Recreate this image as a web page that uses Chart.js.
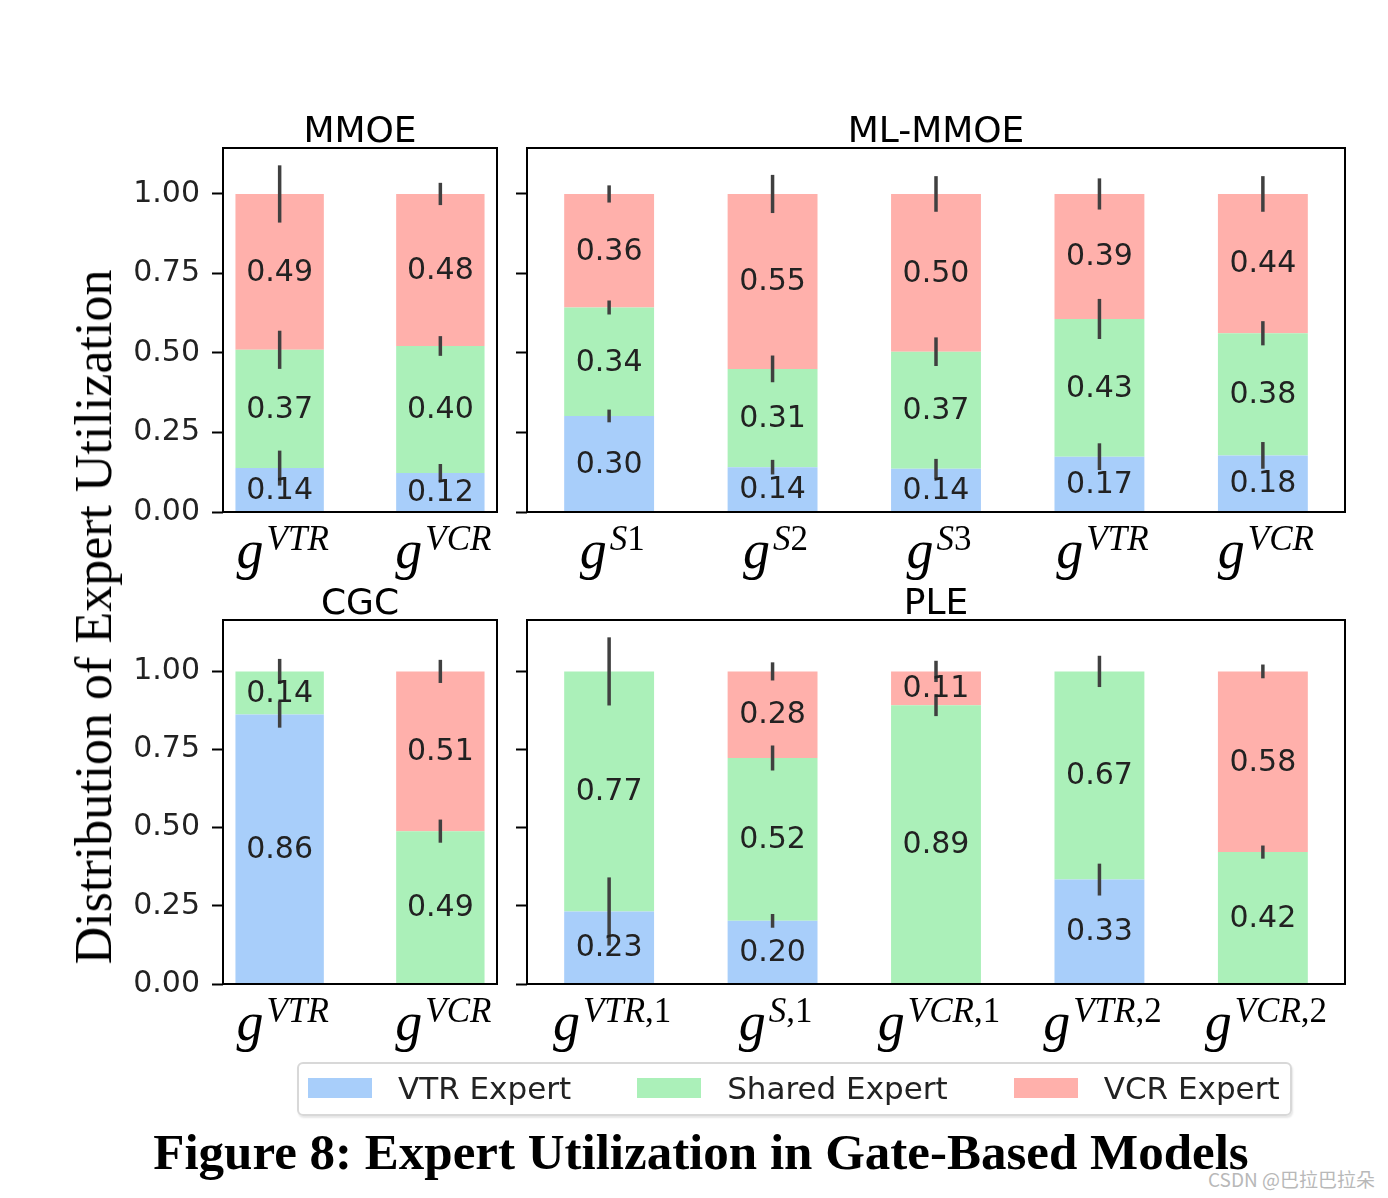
<!DOCTYPE html>
<html>
<head>
<meta charset="utf-8">
<script src="https://cdn.jsdelivr.net/npm/chart.js@4.4.0/dist/chart.umd.min.js"></script>
<style>
body{margin:0;background:#fff;width:1388px;height:1198px;position:relative;overflow:hidden;}
canvas{position:absolute;}
#ylab{position:absolute;left:94px;top:617px;transform:translate(-50%,-50%) rotate(-90deg);font-family:"Liberation Serif";font-size:52px;line-height:1;white-space:nowrap;color:#000;}
#legend{position:absolute;left:297px;top:1062px;width:982px;height:50px;border:2px solid #d8d8d8;border-radius:6px;box-shadow:1px 2px 2px rgba(0,0,0,0.10);display:flex;align-items:center;padding-left:9px;box-sizing:content-box;white-space:nowrap;}
#legend .item{display:flex;align-items:center;flex-shrink:0;margin-right:66px;font-family:"DejaVu Sans";font-size:31px;color:#222;white-space:nowrap;margin-top:-3px;}
#legend .sw{width:64px;height:20px;margin-right:26px;flex-shrink:0;}
#caption{position:absolute;left:0;width:1402px;top:1127px;text-align:center;font-family:"Liberation Serif";font-weight:bold;font-size:51px;line-height:51px;color:#000;white-space:nowrap;}
#mark{position:absolute;right:13px;top:1165px;font-family:"Noto Sans CJK SC";font-size:19px;color:#b8b8b8;white-space:nowrap;}
</style>
</head>
<body>
<canvas id="c1" width="400" height="500" style="left:100px;top:100px"></canvas>
<canvas id="c2" width="850" height="500" style="left:500px;top:100px"></canvas>
<canvas id="c3" width="400" height="500" style="left:100px;top:572px"></canvas>
<canvas id="c4" width="850" height="500" style="left:500px;top:572px"></canvas>
<div id="ylab">Distribution of Expert Utilization</div>
<div id="legend"></div>
<div id="caption">Figure 8: Expert Utilization in Gate-Based Models</div>
<div id="mark">CSDN @巴拉巴拉朵</div>
<script>
// series
var seriesNames = ['VTR Expert', 'Shared Expert', 'VCR Expert'];
var seriesColors = ['#a8cefa', '#abf0b9', '#ffb0ab'];
var yTicks = [0, 0.25, 0.5, 0.75, 1.0];

// MMOE
var mmoeGates = ['VTR', 'VCR'];
var mmoeVtr = [0.138, 0.123];
var mmoeShared = [0.372, 0.399];
var mmoeVcr = [0.490, 0.478];
var mmoeVtrErr = [0.055, 0.028];
var mmoeSharedErr = [0.060, 0.031];
var mmoeVcrErr = [0.090, 0.035];

// ML-MMOE
var mlGates = ['S1', 'S2', 'S3', 'VTR', 'VCR'];
var mlVtr = [0.302, 0.141, 0.136, 0.174, 0.178];
var mlShared = [0.341, 0.309, 0.368, 0.433, 0.384];
var mlVcr = [0.357, 0.550, 0.496, 0.393, 0.438];
var mlVtrErr = [0.020, 0.023, 0.031, 0.042, 0.042];
var mlSharedErr = [0.022, 0.042, 0.045, 0.063, 0.038];
var mlVcrErr = [0.027, 0.060, 0.056, 0.049, 0.056];

// CGC
var cgcGates = ['VTR', 'VCR'];
var cgcVtr = [0.862, 0];
var cgcShared = [0.138, 0.489];
var cgcVcr = [0, 0.511];
var cgcVtrErr = [0.042, 0];
var cgcSharedErr = [0.040, 0.037];
var cgcVcrErr = [0, 0.037];

// PLE
var pleGates = ['VTR,1', 'S,1', 'VCR,1', 'VTR,2', 'VCR,2'];
var pleVtr = [0.232, 0.202, 0, 0.334, 0];
var pleShared = [0.768, 0.521, 0.892, 0.666, 0.422];
var pleVcr = [0, 0.277, 0.108, 0, 0.578];
var pleVtrErr = [0.109, 0.022, 0, 0.051, 0];
var pleSharedErr = [0.109, 0.040, 0.035, 0.050, 0.021];
var pleVcrErr = [0, 0.029, 0.034, 0, 0.022];

var barW = 0.55;

var panels = {
  mmoe: {id: 'c1', title: 'MMOE', gates: mmoeGates, series: [mmoeVtr, mmoeShared, mmoeVcr], errors: [mmoeVtrErr, mmoeSharedErr, mmoeVcrErr], axisW: 123, labels: true, padR: 3},
  ml:   {id: 'c2', title: 'ML-MMOE', gates: mlGates, series: [mlVtr, mlShared, mlVcr], errors: [mlVtrErr, mlSharedErr, mlVcrErr], axisW: 27, labels: false, padR: 5},
  cgc:  {id: 'c3', title: 'CGC', gates: cgcGates, series: [cgcVtr, cgcShared, cgcVcr], errors: [cgcVtrErr, cgcSharedErr, cgcVcrErr], axisW: 123, labels: true, padR: 3},
  ple:  {id: 'c4', title: 'PLE', gates: pleGates, series: [pleVtr, pleShared, pleVcr], errors: [pleVtrErr, pleSharedErr, pleVcrErr], axisW: 27, labels: false, padR: 5}
};

function rowMax(list) {
  var m = 0;
  list.forEach(function(p){
    p.series.forEach(function(s, d){
      s.forEach(function(v, i){
        var cum = 0;
        for (var k = 0; k <= d; k++) cum += p.series[k][i];
        m = Math.max(m, cum + p.errors[d][i]);
      });
    });
  });
  return m * 1.05;
}
var topMax = rowMax([panels.mmoe, panels.ml]);
var botMax = rowMax([panels.cgc, panels.ple]);

function supFont(ch, size) {
  return (/[0-9,]/.test(ch) ? '' : 'italic ') + size + 'px "Liberation Serif"';
}
function drawSup(ctx, x, y, txt, size) {
  for (var k = 0; k < txt.length; k++) {
    ctx.font = supFont(txt[k], size);
    ctx.fillText(txt[k], x, y);
    x += ctx.measureText(txt[k]).width;
  }
}
function supWidth(ctx, txt, size) {
  var w = 0;
  for (var k = 0; k < txt.length; k++) {
    ctx.font = supFont(txt[k], size);
    w += ctx.measureText(txt[k]).width;
  }
  return w;
}

function makePanel(p, yMax) {
  var n = p.gates.length;
  var pad = 0.05 * (n - 1 + barW);
  var datasets = p.series.map(function(s, d){
    return {
      label: seriesNames[d],
      data: s.map(function(v, i){ return {x: i, y: v}; }),
      backgroundColor: seriesColors[d],
      borderWidth: 0,
      barPercentage: barW,
      categoryPercentage: 1
    };
  });
  var decor = {
    id: 'decor',
    afterDatasetsDraw: function(chart) {
      var ctx = chart.ctx, a = chart.chartArea, ys = chart.scales.y;
      ctx.save();
      // error bars
      ctx.strokeStyle = '#404040';
      ctx.lineWidth = 3.5;
      var cum = p.gates.map(function(){ return 0; });
      chart.data.datasets.forEach(function(ds, d){
        var meta = chart.getDatasetMeta(d);
        meta.data.forEach(function(bar, i){
          cum[i] += ds.data[i].y;
          var e = p.errors[d][i];
          if (!e) return;
          ctx.beginPath();
          ctx.moveTo(bar.x, ys.getPixelForValue(cum[i] - e));
          ctx.lineTo(bar.x, ys.getPixelForValue(cum[i] + e));
          ctx.stroke();
        });
      });
      // value labels
      ctx.fillStyle = '#222';
      ctx.font = '30px "DejaVu Sans"';
      ctx.textAlign = 'center';
      ctx.textBaseline = 'middle';
      chart.data.datasets.forEach(function(ds, d){
        var meta = chart.getDatasetMeta(d);
        meta.data.forEach(function(bar, i){
          var v = ds.data[i].y;
          if (v < 0.005) return;
          ctx.fillText(v.toFixed(2), bar.x, (bar.y + bar.base) / 2 + 1);
        });
      });
      // frame
      ctx.strokeStyle = '#000';
      ctx.lineWidth = 2;
      ctx.strokeRect(a.left, a.top, a.right - a.left, a.bottom - a.top);
      // title
      ctx.fillStyle = '#000';
      ctx.font = '36px "DejaVu Sans"';
      ctx.textBaseline = 'alphabetic';
      ctx.fillText(p.title, (a.left + a.right) / 2, a.top - 6);
      // x labels g^{...}
      ctx.textAlign = 'left';
      var m0 = chart.getDatasetMeta(0);
      m0.data.forEach(function(bar, i){
        ctx.font = 'italic 54px "Liberation Serif"';
        var gw = ctx.measureText('g').width;
        var sw = supWidth(ctx, p.gates[i], 35);
        var x0 = bar.x - (gw + 3 + sw) / 2 + 3;
        ctx.font = 'italic 54px "Liberation Serif"';
        ctx.fillText('g', x0, a.bottom + 56);
        drawSup(ctx, x0 + gw + 3, a.bottom + 38, p.gates[i], 35);
      });
      ctx.restore();
    }
  };
  return new Chart(document.getElementById(p.id), {
    type: 'bar',
    data: {datasets: datasets},
    options: {
      responsive: false,
      animation: false,
      devicePixelRatio: 1,
      layout: {padding: {top: 48, bottom: 88, left: 0, right: p.padR}},
      plugins: {legend: {display: false}, tooltip: {enabled: false}},
      scales: {
        x: {
          type: 'linear', display: false, stacked: true, offset: false,
          grid: {offset: false},
          min: -barW / 2 - pad, max: n - 1 + barW / 2 + pad,
          afterBuildTicks: function(s){ s.ticks = p.gates.map(function(g, i){ return {value: i}; }); }
        },
        y: {
          stacked: true, min: 0, max: yMax,
          afterBuildTicks: function(s){ s.ticks = yTicks.map(function(v){ return {value: v}; }); },
          afterFit: function(s){ s.width = p.axisW; },
          ticks: {
            display: p.labels, padding: 12, color: '#222',
            font: {family: 'DejaVu Sans', size: 30},
            callback: function(v){ return Number(v).toFixed(2); }
          },
          grid: {display: true, drawOnChartArea: false, drawTicks: true, tickLength: 11, tickWidth: 2, tickColor: '#000'},
          border: {display: false}
        }
      }
    },
    plugins: [decor]
  });
}

makePanel(panels.mmoe, topMax);
makePanel(panels.ml, topMax);
makePanel(panels.cgc, botMax);
makePanel(panels.ple, botMax);

// legend
var lg = document.getElementById('legend');
seriesNames.forEach(function(name, d){
  var it = document.createElement('div');
  it.className = 'item';
  var sw = document.createElement('div');
  sw.className = 'sw';
  sw.style.background = seriesColors[d];
  var tx = document.createElement('span');
  tx.textContent = name;
  it.appendChild(sw);
  it.appendChild(tx);
  lg.appendChild(it);
});
</script>
</body>
</html>
